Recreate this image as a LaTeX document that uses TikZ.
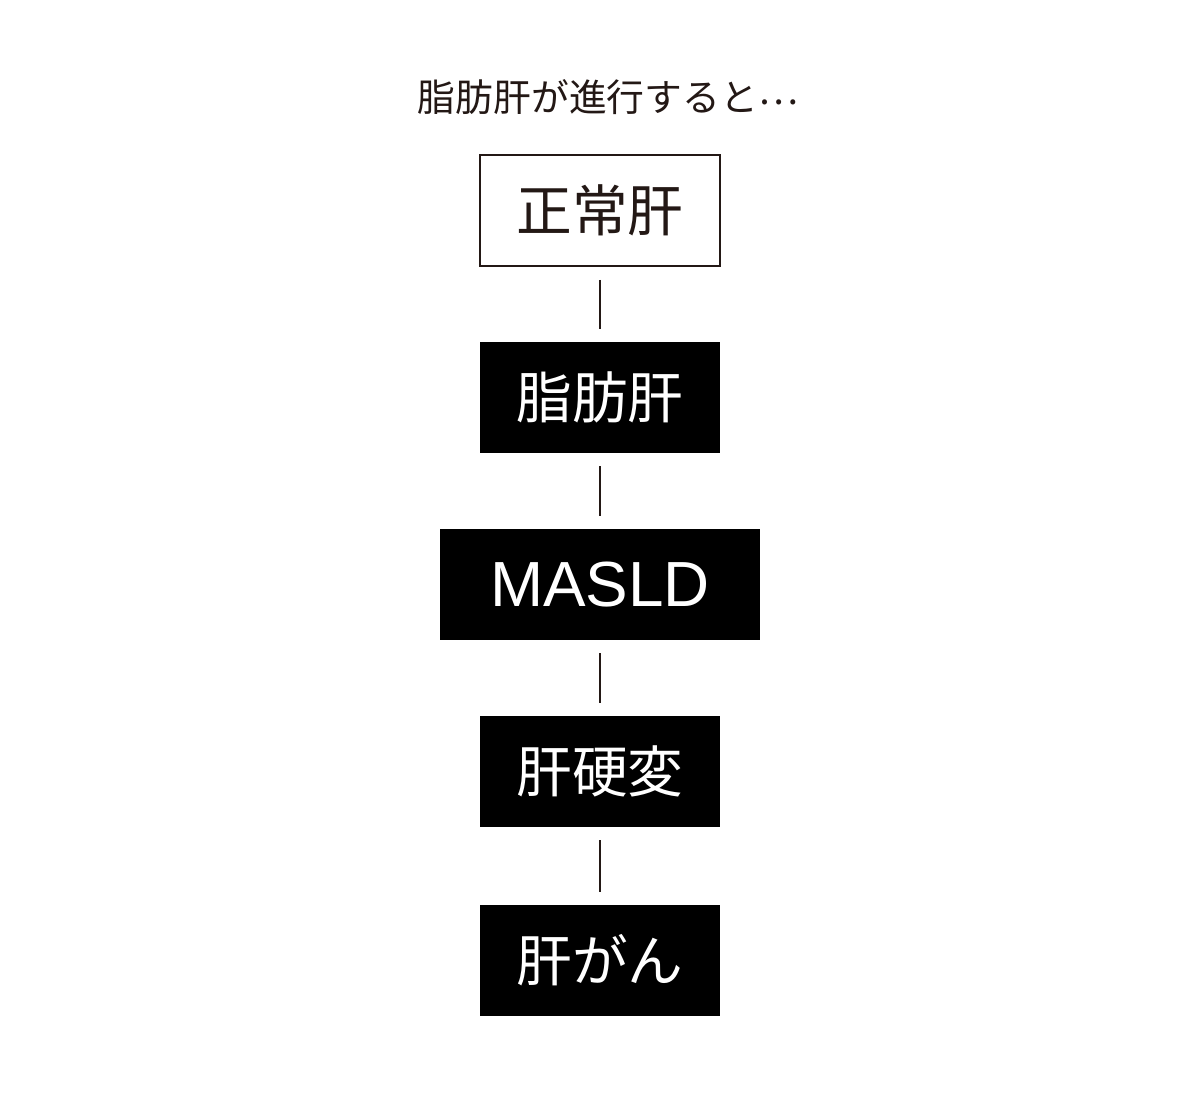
\documentclass[tikz,border=0pt]{standalone}
\usepackage{fontspec}
\newfontfamily\jpfont{Noto Sans CJK JP}
\setsansfont{Liberation Sans}
\definecolor{ink}{HTML}{231815}
\tikzset{
  stagebox/.style={rectangle, minimum width=4.8cm, minimum height=2.22cm, inner sep=0pt,
    fill=black, text=white, font=\jpfont\fontsize{31.7}{34}\selectfont},
  firstbox/.style={stagebox, fill=white, draw=ink, line width=0.85pt, text=ink},
  link/.style={draw=ink, line width=0.75pt, shorten >=0.26cm, shorten <=0.26cm}
}
\begin{document}
\begin{tikzpicture}
	\useasboundingbox (0,0) rectangle (24,-21.84);
	\node[text=ink, font=\jpfont\fontsize{21.5}{24}\selectfont] (title) at (12.16,-1.95) {脂肪肝が進行すると\raisebox{0.14cm}{…}};

	\node[firstbox] (normal) at (12,-4.21) {正常肝};
	\node[stagebox] (fatty) at (12,-7.95) {脂肪肝};
	\node[stagebox, minimum width=6.4cm, font=\sffamily\fontsize{36.3}{40}\selectfont] (masld) at (12,-11.69) {MASLD};
	\node[stagebox] (cirrhosis) at (12,-15.43) {肝硬変};
	\node[stagebox] (cancer) at (12,-19.21) {肝がん};

	\draw[link] (normal) -- (fatty);
	\draw[link] (fatty) -- (masld);
	\draw[link] (masld) -- (cirrhosis);
	\draw[link] (cirrhosis) -- (cancer);

\end{tikzpicture}
\end{document}
